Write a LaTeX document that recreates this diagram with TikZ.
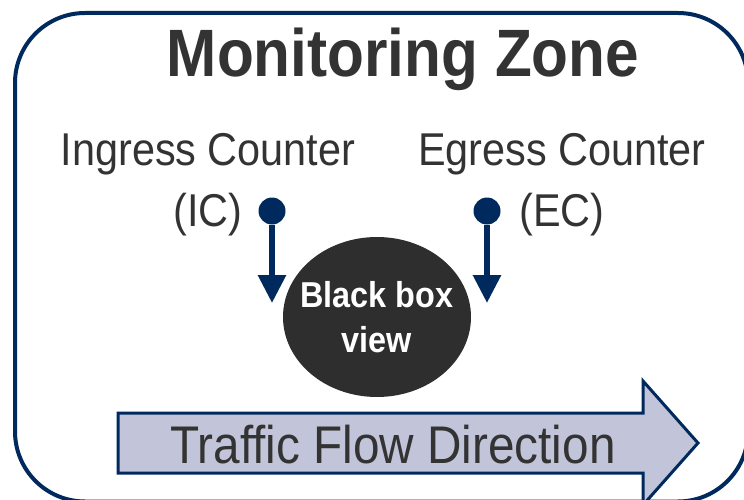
\documentclass[tikz,border=0pt]{standalone}
\usepackage{fontspec}
\setmainfont[FakeStretch=0.9]{Liberation Sans}
\usetikzlibrary{shapes,arrows.meta,positioning}

\definecolor{navy}{RGB}{0,41,94}
\definecolor{textgray}{RGB}{51,51,51}
\definecolor{boxgray}{RGB}{46,46,46}
\definecolor{flowfill}{RGB}{194,197,217}

\begin{document}
\begin{tikzpicture}[x=1pt,y=-1pt,
zone/.style={draw=navy,line width=4pt,rounded corners=70pt},
counter/.style={align=center,text=textgray,font=\fontsize{46}{61}\selectfont},
probedot/.style={circle,fill=navy,inner sep=0pt,minimum size=27pt},
probe/.style={draw=navy,line width=6pt,-{Triangle[width=27pt,length=28pt]}},
flowarrow/.style={draw=navy,line width=3pt,fill=flowfill,line join=miter}]

\useasboundingbox (0,0) rectangle (744,500);
\clip (0,0) rectangle (744,500);

% keret
\draw[zone] (15,13) rectangle (748,501.5);
\node[anchor=base,text=textgray,font=\fontsize{67}{67}\selectfont\bfseries] (title) at (403,77) {Monitoring Zone};

% szamlalok
\node[counter] (ic) at (208,185) {Ingress Counter\\(IC)};
\node[counter] (ec) at (562,185) {Egress Counter\\(EC)};

% fekete doboz
\node[ellipse,fill=boxgray,minimum width=188pt,minimum height=160pt] (bbox) at (377,317) {};
\node[align=center,text=white,font=\fontsize{36}{45}\selectfont\bfseries] (bboxtext) at (bbox) {Black box\\view};

% merési pontok
\node[probedot] (icdot) at (272,211) {};
\node[probedot] (ecdot) at (487,211) {};
\coordinate (ictip) at (272,303);
\coordinate (ectip) at (487,303);
\draw[probe] (icdot) -- (ictip);
\draw[probe] (ecdot) -- (ectip);

% forgalom iranya
\draw[flowarrow] (118,413) -- (643,413) -- (643,381) -- (698,443) -- (643,505) -- (643,473) -- (118,473) -- cycle;
\node[anchor=base,text=textgray,font=\fontsize{53}{53}\selectfont] (flow) at (393,463) {Traffic Flow Direction};
\end{tikzpicture}
\end{document}
